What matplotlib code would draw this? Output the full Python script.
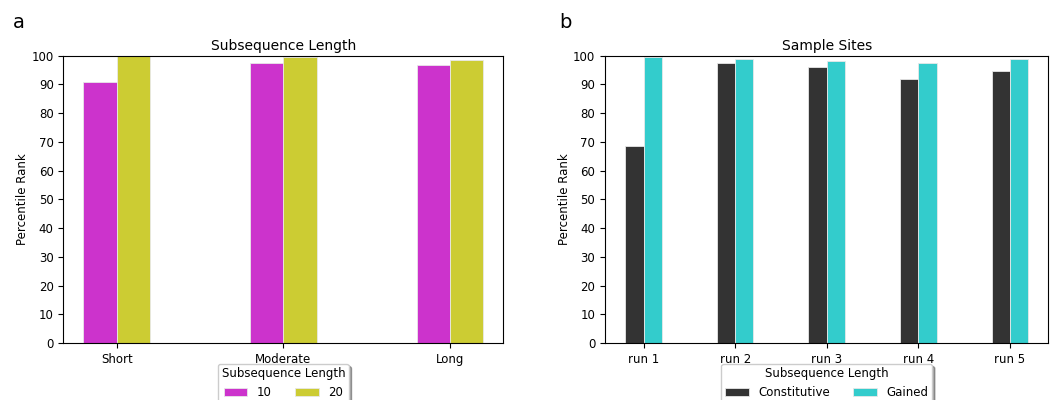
import matplotlib
matplotlib.use("Agg")
import matplotlib.pyplot as plt
import numpy as np

# Panel a
len_categories = ["Short", "Moderate", "Long"]
len_series = ["10", "20"]
len_10 = [90.7, 97.5, 96.6]
len_20 = [99.8, 99.4, 98.6]

# Panel b
run_categories = ["run 1", "run 2", "run 3", "run 4", "run 5"]
run_series = ["Constitutive", "Gained"]
constitutive = [68.5, 97.5, 96.2, 92.0, 94.7]
gained = [99.4, 98.9, 98.2, 97.5, 98.9]

yticks = list(range(0, 101, 10))

fig = plt.figure(figsize=(10.56, 4.0), dpi=100)
ax1 = fig.add_axes([0.060, 0.1425, 0.4167, 0.7183])
ax2 = fig.add_axes([0.573, 0.1425, 0.4198, 0.7183])

w = 0.2

def draw(ax, cats, s1, s2, names, colors, title):
    x = np.arange(len(cats))
    ax.bar(x - w / 2, s1, width=w, color=colors[0], label=names[0],
           edgecolor="#e8e8e8", linewidth=0.6)
    ax.bar(x + w / 2, s2, width=w, color=colors[1], label=names[1],
           edgecolor="#e8e8e8", linewidth=0.6)
    ax.set_xticks(x)
    ax.set_xticklabels(cats, fontsize=8.5)
    ax.set_ylim(0, 100)
    ax.set_yticks(yticks)
    ax.tick_params(axis="y", labelsize=8.5)
    ax.set_ylabel("Percentile Rank", fontsize=8.5, labelpad=1.5)
    ax.set_title(title, fontsize=10, pad=4)
    ax.legend(title="Subsequence Length", ncol=2, loc="upper center",
              bbox_to_anchor=(0.5, -0.072), fontsize=8.5,
              title_fontsize=8.5, shadow=True, framealpha=1,
              handlelength=2.0, columnspacing=2.0, borderpad=0.3,
              borderaxespad=0.0)

draw(ax1, len_categories, len_10, len_20, len_series,
     ["#CC33CC", "#CCCC33"], "Subsequence Length")
draw(ax2, run_categories, constitutive, gained, run_series,
     ["#333333", "#33CCCC"], "Sample Sites")

fig.text(0.012, 0.945, "a", fontsize=14, va="center")
fig.text(0.530, 0.945, "b", fontsize=14, va="center")

fig.savefig("out.png", dpi=100)
